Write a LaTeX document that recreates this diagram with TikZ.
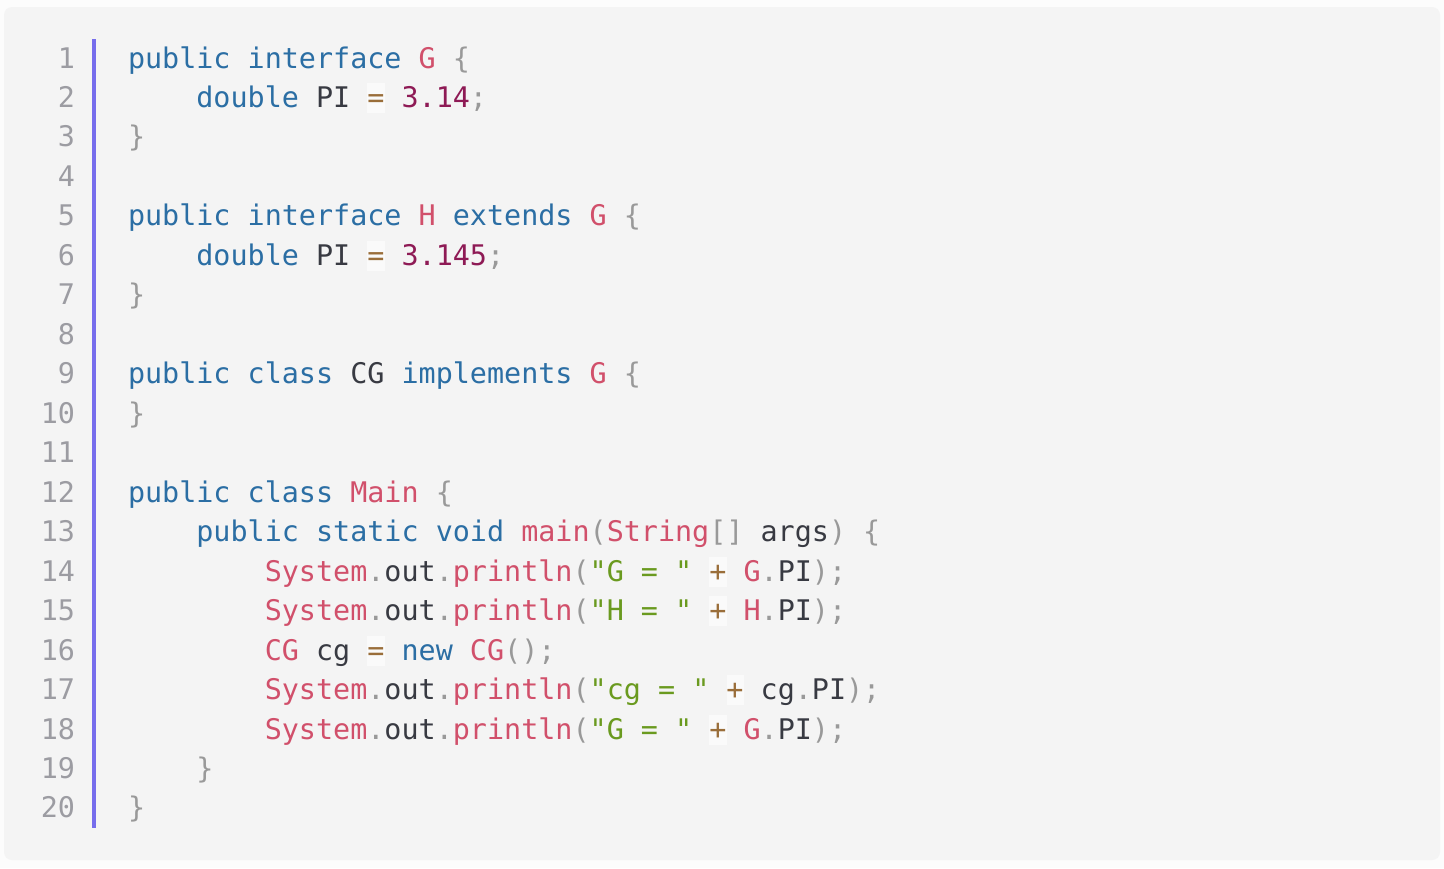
\documentclass[tikz,border=0pt]{standalone}
\usepackage{fontspec}
\newfontfamily\codefont{DejaVu Sans Mono}
\definecolor{pagebg}{HTML}{FCFCFC}
\definecolor{panelbg}{HTML}{F4F4F4}
\definecolor{barcol}{HTML}{766DEC}
\definecolor{kwcol}{HTML}{2B6EA4}
\definecolor{cncol}{HTML}{D1506B}
\definecolor{numcol}{HTML}{8E1A55}
\definecolor{strcol}{HTML}{6A9A1F}
\definecolor{puncol}{HTML}{999999}
\definecolor{opcol}{HTML}{9A6E3A}
\definecolor{txtcol}{HTML}{383A42}
\definecolor{lncol}{HTML}{9C9CA2}
\definecolor{opbgcol}{HTML}{FAFAFA}
\newcommand\Kw[1]{\textcolor{kwcol}{#1}}
\newcommand\Cn[1]{\textcolor{cncol}{#1}}
\newcommand\Num[1]{\textcolor{numcol}{#1}}
\newcommand\Str[1]{\textcolor{strcol}{#1}}
\newcommand\Pun[1]{\textcolor{puncol}{#1}}
\newcommand\Opr[1]{\textcolor{opcol}{#1}}
\begin{document}
\begin{tikzpicture}[x=0.5pt,y=-0.5pt,
  code/.style={anchor=base west,inner sep=0pt,outer sep=0pt,text=txtcol,
    font=\codefont\fontsize{14.2pt}{17pt}\selectfont},
  lnum/.style={anchor=base east,inner sep=0pt,outer sep=0pt,text=lncol,
    font=\codefont\fontsize{14.2pt}{17pt}\selectfont},
  opbg/.style={fill=opbgcol}]
\useasboundingbox (0,0) rectangle (1444,868);
\fill[pagebg] (0,0) rectangle (1444,868);
\fill[panelbg,rounded corners=4pt] (4,7) rectangle (1440,860);
\fill[barcol] (92,39) rectangle (96,828);
% operator highlight boxes
\fill[opbg] (367.4,83) rectangle (384.5,113);
\fill[opbg] (367.4,240.9) rectangle (384.5,270.9);
\fill[opbg] (709.4,556.6) rectangle (726.5,586.6);
\fill[opbg] (709.4,596.1) rectangle (726.5,626.1);
\fill[opbg] (367.4,635.6) rectangle (384.5,665.6);
\fill[opbg] (726.5,675) rectangle (743.6,705);
\fill[opbg] (709.4,714.5) rectangle (726.5,744.5);
% line numbers
\foreach \i in {1,...,20}{
  \node[lnum] (n\i) at (75,{68+(\i-1)*39.47}) {\i};
}
% code lines
\node[code] (l1) at (128,68) {\Kw{public interface} \Cn{G} \Pun{\{}};
\node[code] (l2) at (196.4,107.47) {\Kw{double} PI \Opr{=} \Num{3.14}\Pun{;}};
\node[code] (l3) at (128,146.94) {\Pun{\}}};
\node[code] (l5) at (128,225.88) {\Kw{public interface} \Cn{H} \Kw{extends} \Cn{G} \Pun{\{}};
\node[code] (l6) at (196.4,265.35) {\Kw{double} PI \Opr{=} \Num{3.145}\Pun{;}};
\node[code] (l7) at (128,304.82) {\Pun{\}}};
\node[code] (l9) at (128,383.76) {\Kw{public class} CG \Kw{implements} \Cn{G} \Pun{\{}};
\node[code] (l10) at (128,423.23) {\Pun{\}}};
\node[code] (l12) at (128,502.17) {\Kw{public class} \Cn{Main} \Pun{\{}};
\node[code] (l13) at (196.4,541.64) {\Kw{public static void} \Cn{main}\Pun{(}\Cn{String}\Pun{[]} args\Pun{)} \Pun{\{}};
\node[code] (l14) at (264.8,581.11) {\Cn{System}\Pun{.}out\Pun{.}\Cn{println}\Pun{(}\Str{"G = "} \Opr{+} \Cn{G}\Pun{.}PI\Pun{);}};
\node[code] (l15) at (264.8,620.58) {\Cn{System}\Pun{.}out\Pun{.}\Cn{println}\Pun{(}\Str{"H = "} \Opr{+} \Cn{H}\Pun{.}PI\Pun{);}};
\node[code] (l16) at (264.8,660.05) {\Cn{CG} cg \Opr{=} \Kw{new} \Cn{CG}\Pun{();}};
\node[code] (l17) at (264.8,699.52) {\Cn{System}\Pun{.}out\Pun{.}\Cn{println}\Pun{(}\Str{"cg = "} \Opr{+} cg\Pun{.}PI\Pun{);}};
\node[code] (l18) at (264.8,738.99) {\Cn{System}\Pun{.}out\Pun{.}\Cn{println}\Pun{(}\Str{"G = "} \Opr{+} \Cn{G}\Pun{.}PI\Pun{);}};
\node[code] (l19) at (196.4,778.46) {\Pun{\}}};
\node[code] (l20) at (128,817.93) {\Pun{\}}};
\end{tikzpicture}
\end{document}
